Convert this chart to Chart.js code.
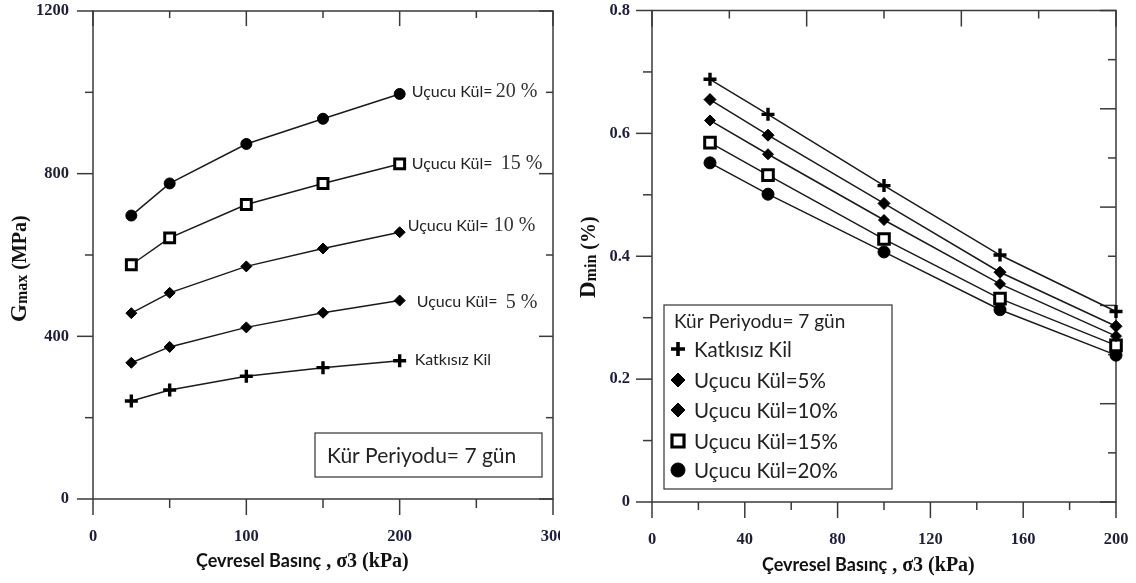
<!DOCTYPE html>
<html><head><meta charset="utf-8">
<script src="https://cdn.jsdelivr.net/npm/chart.js@4/dist/chart.umd.min.js"></script>
<style>
html,body{margin:0;padding:0;background:#fff;}
#wrap{position:relative;width:1136px;height:583px;overflow:hidden;background:#fff;}
.pane{position:absolute;top:0;height:583px;overflow:hidden;}
canvas{position:absolute;top:0;left:0;}
</style></head><body>
<div id="wrap">
<div class="pane" style="left:0px;width:560px"><canvas id="gmax" width="570" height="583"></canvas></div>
<div class="pane" style="left:570px;width:566px"><canvas id="dmin" width="566" height="583"></canvas></div>
</div>
<script>
// ---------- data ----------
const pressure = [25, 50, 100, 150, 200];
const seriesNames = ['Katkısız Kil', 'Uçucu Kül=5%', 'Uçucu Kül=10%', 'Uçucu Kül=15%', 'Uçucu Kül=20%'];
const gmaxKatkisiz = [241, 268, 302, 323, 340];
const gmax5 = [335, 374, 422, 458, 488];
const gmax10 = [457, 507, 572, 616, 656];
const gmax15 = [576, 642, 724, 776, 824];
const gmax20 = [697, 776, 873, 935, 996];
const dminKatkisiz = [0.688, 0.631, 0.515, 0.402, 0.310];
const dmin5 = [0.655, 0.597, 0.486, 0.374, 0.286];
const dmin10 = [0.621, 0.566, 0.459, 0.355, 0.270];
const dmin15 = [0.585, 0.532, 0.428, 0.331, 0.255];
const dmin20 = [0.552, 0.501, 0.407, 0.313, 0.239];
const gmaxXTicks = [0, 100, 200, 300];
const gmaxYTicks = [0, 400, 800, 1200];
const dminXTicks = [0, 40, 80, 120, 160, 200];
const dminYTicks = [0, 0.2, 0.4, 0.6, 0.8];
const gmaxLabelWords = ['Katkısız Kil', 'Uçucu Kül=', 'Uçucu Kül=', 'Uçucu Kül=', 'Uçucu Kül='];
const gmaxLabelPercent = ['', '5 %', '10 %', '15 %', '20 %'];
const periodText = 'Kür Periyodu= 7 gün';

// ---------- styles ----------
const INK = '#1a1a1a';
const AXIS = '#3a3a3a';
const TICKCOL = '#1e1e3c';
const SANS = 'Lato, "Open Sans", sans-serif';
const SERIF = '"Liberation Serif", "Times New Roman", serif';

function markers(big) {
  return [
    {pointStyle: 'cross', radius: 6.5, borderWidth: 3.4, bg: '#000'},
    {pointStyle: 'rectRot', radius: big ? 6 : 5.5, borderWidth: 1, bg: '#000'},
    {pointStyle: 'rectRot', radius: 5.5, borderWidth: 1, bg: '#000'},
    {pointStyle: 'rect', radius: big ? 7.5 : 7, borderWidth: 3, bg: '#fff'},
    {pointStyle: 'circle', radius: big ? 6 : 5.5, borderWidth: 1, bg: '#000'}
  ];
}

function makeDataset(values, i, big) {
  const m = markers(big)[i];
  return {
    label: seriesNames[i],
    data: values.map((v, k) => ({x: pressure[k], y: v})),
    borderColor: INK,
    borderWidth: 1.5,
    pointStyle: m.pointStyle,
    pointRadius: m.radius,
    pointHoverRadius: m.radius,
    pointBorderWidth: m.borderWidth,
    pointBorderColor: '#000',
    pointBackgroundColor: m.bg,
    tension: 0,
    clip: false
  };
}

// axis frame + ticks (major/minor, inward/outward)
const framePlugin = {
  id: 'frame',
  beforeDatasetsDraw(chart, args, o) {
    const ctx = chart.ctx, a = chart.chartArea;
    ctx.save();
    ctx.strokeStyle = AXIS;
    ctx.lineWidth = 1.5;
    ctx.strokeRect(a.left, a.top, a.right - a.left, a.bottom - a.top);
    o.specs.forEach(sp => {
      const sc = chart.scales[sp.scale];
      for (let v = sp.min; v <= sp.max + 1e-9; v += sp.step) {
        const isMajor = Math.abs(v / sp.major - Math.round(v / sp.major)) < 1e-6;
        const len = isMajor ? sp.majorLen : sp.minorLen;
        const p = sc.getPixelForValue(v);
        ctx.beginPath();
        if (sp.side === 'bottom') { ctx.moveTo(p, a.bottom); ctx.lineTo(p, a.bottom + len); }
        if (sp.side === 'top') { ctx.moveTo(p, a.top); ctx.lineTo(p, a.top + len); }
        if (sp.side === 'left') { ctx.moveTo(a.left - len, p); ctx.lineTo(a.left, p); }
        if (sp.side === 'right') { ctx.moveTo(a.right - len, p); ctx.lineTo(a.right, p); }
        ctx.stroke();
      }
    });
    ctx.restore();
  }
};

// axis titles with mixed fonts
const titlePlugin = {
  id: 'titles',
  afterDraw(chart, args, o) {
    const ctx = chart.ctx;
    ctx.save();
    ctx.fillStyle = '#111';
    ctx.textBaseline = 'alphabetic';
    ctx.textAlign = 'left';
    let x = o.x.x;
    o.x.parts.forEach(p => { ctx.font = p.font; ctx.fillText(p.text, x, o.x.y + (p.dy || 0)); x += ctx.measureText(p.text).width; });
    ctx.translate(o.y.x, o.y.y);
    ctx.rotate(-Math.PI / 2);
    x = 0;
    o.y.parts.forEach(p => { ctx.font = p.font; ctx.fillText(p.text, x, p.dy || 0); x += ctx.measureText(p.text).width; });
    ctx.restore();
  }
};

// left chart: series labels next to the last points + period box
const gmaxNotes = {
  id: 'gmaxNotes',
  afterDraw(chart, args, o) {
    const ctx = chart.ctx, a = chart.chartArea;
    const xs = chart.scales.x, ys = chart.scales.y;
    ctx.save();
    ctx.textBaseline = 'middle';
    chart.data.datasets.forEach((ds, i) => {
      const last = ds.data[ds.data.length - 1];
      const px = xs.getPixelForValue(last.x), py = ys.getPixelForValue(last.y);
      const off = o.offsets[i];
      ctx.fillStyle = '#222';
      ctx.font = '16px ' + SANS;
      ctx.fillText(gmaxLabelWords[i], px + off[0], py + off[1]);
      if (gmaxLabelPercent[i]) {
        ctx.fillStyle = '#333';
        ctx.font = '20px ' + SERIF;
        ctx.fillText(gmaxLabelPercent[i], px + off[2], py + off[1] + off[3]);
      }
    });
    ctx.strokeStyle = '#333';
    ctx.lineWidth = 1.2;
    const bx = a.left + 222, by = a.bottom - 66;
    ctx.fillStyle = '#fff';
    ctx.fillRect(bx, by, 227, 44);
    ctx.strokeRect(bx, by, 227, 44);
    ctx.fillStyle = '#222';
    ctx.font = '21px ' + SANS;
    ctx.fillText(periodText, bx + 12, by + 23);
    ctx.restore();
  }
};

// right chart legend box
const dminLegend = {
  id: 'dminLegend',
  afterDraw(chart) {
    const ctx = chart.ctx, a = chart.chartArea;
    const bx = a.left + 12, bw = 228, bh = 184, by = a.bottom - 13 - bh;
    ctx.save();
    ctx.fillStyle = '#fff';
    ctx.fillRect(bx, by, bw, bh);
    ctx.strokeStyle = '#333';
    ctx.lineWidth = 1.2;
    ctx.strokeRect(bx, by, bw, bh);
    ctx.fillStyle = '#222';
    ctx.textBaseline = 'middle';
    ctx.font = '19px ' + SANS;
    ctx.fillText(periodText, bx + 10, by + 17);
    const rows = [44, 75, 105, 136, 165];
    const leg = [
      {pointStyle: 'cross', radius: 7, borderWidth: 3.6, bg: '#000'},
      {pointStyle: 'rectRot', radius: 7, borderWidth: 1, bg: '#000'},
      {pointStyle: 'rectRot', radius: 7, borderWidth: 1, bg: '#000'},
      {pointStyle: 'rect', radius: 8.5, borderWidth: 3.2, bg: '#fff'},
      {pointStyle: 'circle', radius: 7, borderWidth: 1, bg: '#000'}
    ];
    chart.data.datasets.forEach((ds, i) => {
      const y = by + rows[i];
      const m = leg[i];
      ctx.fillStyle = m.bg;
      ctx.strokeStyle = '#000';
      ctx.lineWidth = m.borderWidth;
      Chart.helpers.drawPoint(ctx, {pointStyle: m.pointStyle, radius: m.radius, rotation: 0, borderWidth: m.borderWidth}, bx + 14, y);
      ctx.fillStyle = '#222';
      ctx.font = '20.5px ' + SANS;
      ctx.fillText(ds.label, bx + 30, y + 1);
    });
    ctx.restore();
  }
};

const tickFont = {family: SERIF, size: 16.5, weight: 'bold'};

function axisX(min, max, ticksArr, height, pad) {
  return {
    type: 'linear', position: 'bottom', min: min, max: max,
    afterBuildTicks: s => { s.ticks = ticksArr.map(v => ({value: v})); },
    grid: {display: false, drawTicks: false}, border: {display: false},
    ticks: {font: tickFont, color: TICKCOL, padding: pad, autoSkip: false, maxRotation: 0, callback: v => String(v)},
    afterFit: s => { s.height = height; s.paddingLeft = 0; s.paddingRight = 0; }
  };
}
function axisY(min, max, ticksArr, width, pad) {
  return {
    type: 'linear', position: 'left', min: min, max: max,
    afterBuildTicks: s => { s.ticks = ticksArr.map(v => ({value: v})); },
    grid: {display: false, drawTicks: false}, border: {display: false},
    ticks: {font: tickFont, color: TICKCOL, padding: pad, autoSkip: false, callback: v => String(v)},
    afterFit: s => { s.width = width; s.paddingTop = 0; s.paddingBottom = 0; }
  };
}
function hidden(pos, min, max) {
  return {type: 'linear', position: pos, min: min, max: max, display: false};
}

Chart.defaults.animation = false;

new Chart(document.getElementById('gmax'), {
  type: 'line',
  data: {datasets: [
    makeDataset(gmaxKatkisiz, 0, false),
    makeDataset(gmax5, 1, false),
    makeDataset(gmax10, 2, false),
    makeDataset(gmax15, 3, false),
    makeDataset(gmax20, 4, false)
  ]},
  options: {
    responsive: false, animation: false, devicePixelRatio: 1,
    layout: {padding: {left: 0, right: 17, top: 11, bottom: 0}},
    plugins: {
      legend: {display: false}, tooltip: {enabled: false},
      frame: {specs: [
        {scale: 'x', side: 'bottom', min: 0, max: 300, step: 50, major: 100, majorLen: 16, minorLen: 9},
        {scale: 'x', side: 'top', min: 0, max: 300, step: 50, major: 100, majorLen: 15, minorLen: 7},
        {scale: 'y', side: 'left', min: 0, max: 1200, step: 200, major: 400, majorLen: 16, minorLen: 8},
        {scale: 'y', side: 'right', min: 0, max: 1200, step: 200, major: 400, majorLen: 14, minorLen: 7}
      ]},
      titles: {
        x: {x: 196, y: 567, parts: [
          {text: 'Çevresel Basınç', font: 'bold 18px ' + SANS},
          {text: ' , σ3 (kPa)', font: 'bold 20px ' + SERIF}
        ]},
        y: {x: 26, y: 322, parts: [
          {text: 'G', font: 'bold 23px ' + SERIF},
          {text: 'max', font: 'bold 16px ' + SERIF, dy: 1},
          {text: ' (MPa)', font: 'bold 20px ' + SERIF}
        ]}
      },
      gmaxNotes: {offsets: [
        [15, -1, 0, 0],
        [17, 1, 106, 1],
        [8, -6, 94, 0],
        [12, 0, 101, 0],
        [12, -2, 96, 0]
      ]}
    },
    scales: {
      x: axisX(0, 300, gmaxXTicks, 84, 28),
      y: axisY(0, 1200, gmaxYTicks, 93, 24)
    }
  },
  plugins: [framePlugin, titlePlugin, gmaxNotes]
});

new Chart(document.getElementById('dmin'), {
  type: 'line',
  data: {datasets: [
    makeDataset(dminKatkisiz, 0, true),
    makeDataset(dmin5, 1, true),
    makeDataset(dmin10, 2, true),
    makeDataset(dmin15, 3, true),
    makeDataset(dmin20, 4, true)
  ]},
  options: {
    responsive: false, animation: false, devicePixelRatio: 1,
    layout: {padding: {left: 0, right: 20, top: 10, bottom: 0}},
    plugins: {
      legend: {display: false}, tooltip: {enabled: false},
      frame: {specs: [
        {scale: 'x', side: 'bottom', min: 0, max: 200, step: 20, major: 40, majorLen: 16, minorLen: 8},
        {scale: 'x2', side: 'top', min: 0, max: 300, step: 50, major: 100, majorLen: 16, minorLen: 8},
        {scale: 'y', side: 'left', min: 0, max: 0.8, step: 0.1, major: 0.2, majorLen: 16, minorLen: 9},
        {scale: 'y2', side: 'right', min: 0, max: 1, step: 0.1, major: 0.2, majorLen: 16, minorLen: 8}
      ]},
      titles: {
        x: {x: 192, y: 571, parts: [
          {text: 'Çevresel Basınç', font: 'bold 18px ' + SANS},
          {text: ' , σ3 (kPa)', font: 'bold 20px ' + SERIF}
        ]},
        y: {x: 25, y: 298, parts: [
          {text: 'D', font: 'bold 23px ' + SERIF},
          {text: 'min', font: 'bold 16px ' + SERIF, dy: 1},
          {text: ' (%)', font: 'bold 20px ' + SERIF}
        ]}
      }
    },
    scales: {
      x: axisX(0, 200, dminXTicks, 81, 28),
      y: axisY(0, 0.8, dminYTicks, 82, 22),
      x2: hidden('top', 0, 300),
      y2: hidden('right', 0, 1)
    }
  },
  plugins: [framePlugin, titlePlugin, dminLegend]
});
</script>
</body></html>
